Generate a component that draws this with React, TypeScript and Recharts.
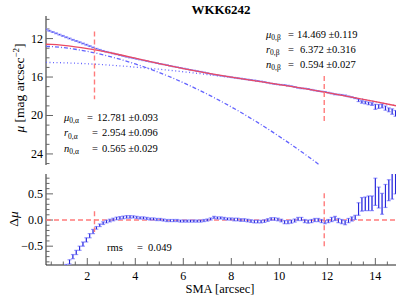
import { ComposedChart, Scatter, Line, XAxis, YAxis, ErrorBar, ReferenceLine } from 'recharts'

// semi-major axis of each isophote (arcsec)
const sma = [
  0.28, 0.42, 0.56, 0.70, 0.84, 0.98, 1.12, 1.26, 1.40, 1.54,
  1.68, 1.82, 1.96, 2.10, 2.24, 2.38, 2.52, 2.66, 2.80, 2.94,
  3.08, 3.22, 3.36, 3.50, 3.64, 3.78, 3.92, 4.06, 4.20, 4.34,
  4.48, 4.62, 4.76, 4.90, 5.04, 5.18, 5.32, 5.46, 5.60, 5.74,
  5.88, 6.02, 6.16, 6.30, 6.44, 6.58, 6.72, 6.86, 7.00, 7.14,
  7.28, 7.42, 7.56, 7.70, 7.84, 7.98, 8.12, 8.26, 8.40, 8.54,
  8.68, 8.82, 8.96, 9.10, 9.24, 9.38, 9.52, 9.66, 9.80, 9.94,
  10.08, 10.22, 10.36, 10.50, 10.64, 10.78, 10.92, 11.06, 11.20, 11.34,
  11.48, 11.62, 11.76, 11.90, 12.04, 12.18, 12.32, 12.46, 12.60, 12.74,
  12.88, 13.02, 13.16, 13.30, 13.44, 13.58, 13.72, 13.86, 14.00, 14.14,
  14.28, 14.42, 14.56, 14.70, 14.84,
]

// observed surface brightness (mag arcsec^-2)
const muObs = [
  11.06, 11.19, 11.32, 11.45, 11.59, 11.72, 11.86, 11.99, 12.13, 12.25,
  12.38, 12.51, 12.64, 12.78, 12.92, 13.05, 13.16, 13.27, 13.37, 13.46,
  13.55, 13.64, 13.73, 13.81, 13.90, 13.98, 14.05, 14.12, 14.19, 14.27,
  14.34, 14.41, 14.48, 14.55, 14.63, 14.69, 14.76, 14.84, 14.91, 14.98,
  15.04, 15.11, 15.18, 15.25, 15.31, 15.38, 15.44, 15.51, 15.59, 15.67,
  15.75, 15.80, 15.86, 15.91, 15.95, 16.01, 16.06, 16.11, 16.15, 16.21,
  16.25, 16.30, 16.34, 16.40, 16.45, 16.52, 16.59, 16.67, 16.72, 16.77,
  16.80, 16.83, 16.89, 16.95, 17.03, 17.12, 17.18, 17.19, 17.24, 17.32,
  17.40, 17.46, 17.50, 17.54, 17.62, 17.71, 17.80, 17.82, 17.86, 17.91,
  18.01, 18.10, 18.20, 18.43, 18.59, 18.66, 18.74, 18.81, 19.10, 19.06,
  19.01, 19.23, 19.41, 19.59, 19.78,
]

const muErr = [
  0.04, 0.04, 0.04, 0.04, 0.04, 0.04, 0.04, 0.04, 0.04, 0.04,
  0.04, 0.04, 0.04, 0.04, 0.04, 0.025, 0.025, 0.025, 0.025, 0.025,
  0.025, 0.025, 0.025, 0.025, 0.025, 0.025, 0.02, 0.02, 0.02, 0.02,
  0.02, 0.02, 0.02, 0.02, 0.02, 0.02, 0.02, 0.02, 0.02, 0.02,
  0.02, 0.02, 0.02, 0.02, 0.02, 0.02, 0.02, 0.02, 0.02, 0.02,
  0.02, 0.02, 0.02, 0.02, 0.02, 0.02, 0.025, 0.025, 0.025, 0.025,
  0.025, 0.025, 0.025, 0.025, 0.025, 0.025, 0.025, 0.025, 0.025, 0.025,
  0.025, 0.03, 0.03, 0.03, 0.03, 0.03, 0.03, 0.03, 0.03, 0.03,
  0.03, 0.03, 0.03, 0.03, 0.03, 0.04, 0.04, 0.04, 0.04, 0.04,
  0.04, 0.04, 0.04, 0.12, 0.13, 0.13, 0.14, 0.14, 0.26, 0.2,
  0.2, 0.22, 0.2, 0.28, 0.3,
]

// residuals data - model
const dMu = [
  -1.53, -1.42, -1.31, -1.20, -1.09, -0.99, -0.89, -0.80, -0.70, -0.62,
  -0.54, -0.46, -0.38, -0.30, -0.22, -0.15, -0.10, -0.06, -0.03, -0.01,
  0.01, 0.03, 0.04, 0.05, 0.06, 0.06, 0.06, 0.05, 0.04, 0.04,
  0.03, 0.02, 0.02, 0.01, 0.01, 0.00, -0.01, -0.01, -0.01, -0.01,
  -0.02, -0.02, -0.02, -0.02, -0.02, -0.02, -0.02, -0.01, 0.00, 0.02,
  0.05, 0.04, 0.04, 0.03, 0.02, 0.02, 0.01, 0.01, 0.00, 0.00,
  -0.01, -0.02, -0.03, -0.03, -0.03, -0.02, 0.00, 0.02, 0.02, 0.01,
  -0.01, -0.04, -0.04, -0.03, -0.01, 0.02, 0.02, -0.02, -0.03, -0.02,
  0.00, 0.00, -0.02, -0.04, -0.02, 0.01, 0.03, -0.01, -0.03, -0.05,
  -0.01, 0.02, 0.05, 0.21, 0.30, 0.31, 0.32, 0.32, 0.54, 0.43,
  0.31, 0.46, 0.57, 0.68, 0.80,
]

// total model and the two sersic components
const modelSma = [0.28, 0.5, 1, 1.5, 2, 2.5, 3, 3.5, 4, 4.5, 5, 5.5, 6, 6.5, 7, 7.5, 8, 9, 10, 11, 12, 13, 14, 14.86]
const muTotal = [12.59, 12.61, 12.71, 12.86, 13.04, 13.25, 13.50, 13.76, 14.04, 14.32, 14.60, 14.87, 15.12, 15.36, 15.59, 15.80, 16.00, 16.39, 16.78, 17.19, 17.62, 18.08, 18.56, 18.99]

const alphaSma = [0.28, 0.5, 1, 1.5, 2, 2.5, 3, 3.5, 4, 4.5, 5, 5.5, 6, 6.5, 7, 7.5, 8, 9, 10, 11, 11.5, 11.7]
const muAlpha = [12.80, 12.83, 12.94, 13.11, 13.33, 13.59, 13.90, 14.25, 14.64, 15.07, 15.54, 16.04, 16.59, 17.17, 17.78, 18.43, 19.11, 20.58, 22.18, 23.91, 24.82, 25.19]

const betaSma = [0.28, 1, 2, 3, 4, 5, 6, 7, 8, 9, 10, 11, 12, 13, 14, 14.86]
const muBeta = [14.48, 14.52, 14.62, 14.77, 14.97, 15.19, 15.45, 15.74, 16.06, 16.41, 16.79, 17.19, 17.62, 18.08, 18.56, 18.99]

// fit range markers
const fitEdges = [2.3, 11.87]
const fitMarkMu = [[11.25, 18.3], [15.9, 20.7]]
const fitMarkRes = [[0.17, -0.23], [0.51, -0.53]]

const xTicks = [0.5, 1, 1.5, 2, 2.5, 3, 3.5, 4, 4.5, 5, 5.5, 6, 6.5, 7, 7.5, 8, 8.5, 9, 9.5, 10, 10.5, 11, 11.5, 12, 12.5, 13, 13.5, 14, 14.5]
const xMajor = [2, 4, 6, 8, 10, 12, 14]
const muTicks = [10, 11, 12, 13, 14, 15, 16, 17, 18, 19, 20, 21, 22, 23, 24, 25]
const muMajor = [12, 16, 20, 24]
const resTicks = [-0.8, -0.7, -0.6, -0.5, -0.4, -0.3, -0.2, -0.1, 0, 0.1, 0.2, 0.3, 0.4, 0.5, 0.6, 0.7, 0.8]
const resMajor = [-0.5, 0, 0.5]

const SERIF = '"Liberation Serif", "DejaVu Serif", serif'
const X_DOMAIN = [0.28, 14.86]
const MU_DOMAIN = [9.65, 25.15]
const RES_DOMAIN = [-0.86, 0.88]

const obs = sma.map((x, i) => ({ x, y: muObs[i], err: muErr[i] }))
const res = sma.map((x, i) => ({ x, y: dMu[i], err: muErr[i] }))
const total = modelSma.map((x, i) => ({ x, y: muTotal[i] }))
const alpha = alphaSma.map((x, i) => ({ x, y: muAlpha[i] }))
const beta = betaSma.map((x, i) => ({ x, y: muBeta[i] }))

const fmtRes = (v: number) => (v < 0 ? '\u2212' + Math.abs(v).toFixed(1) : v.toFixed(1))

// inward tick marks, labels only on the major ones
const Tick = ({ x, y, payload, side, majors, fmt }: any) => {
  const v = payload.value
  const big = majors.some((m: number) => Math.abs(m - v) < 1e-6)
  const len = big ? 7 : 3.5
  let mark
  if (side === 'bottom') mark = <line x1={x} y1={y} x2={x} y2={y - len} />
  else if (side === 'top') mark = <line x1={x} y1={y} x2={x} y2={y + len} />
  else if (side === 'left') mark = <line x1={x} y1={y} x2={x + len} y2={y} />
  else mark = <line x1={x} y1={y} x2={x - len} y2={y} />
  return (
    <g>
      <g stroke="#666" strokeWidth={1}>{mark}</g>
      {fmt && big && side === 'bottom' && (
        <text x={x} y={y + 14.5} textAnchor="middle" fontFamily={SERIF} fontSize={12} fill="#000">{fmt(v)}</text>
      )}
      {fmt && big && side === 'left' && (
        <text x={x - 3} y={y + 4} textAnchor="end" fontFamily={SERIF} fontSize={12} fill="#000">{fmt(v)}</text>
      )}
    </g>
  )
}

const axisLine = { stroke: '#222', strokeWidth: 1 }

// the same four axes for both layers; the "bare" copy only lends its scales to the series
function Axes({ yDomain, yTicks, yMajor, reversed, xFmt, yFmt, bottomHeight, bare }: any) {
  const tk = (side: string, majors: number[], fmt?: any) =>
    bare ? false : (p: any) => <Tick {...p} side={side} majors={majors} fmt={fmt} />
  const line = bare ? false : axisLine
  return [
    <XAxis key="xb" xAxisId="b" dataKey="x" type="number" domain={X_DOMAIN} allowDataOverflow ticks={xTicks} interval={0}
      height={bottomHeight} tickSize={0} tickMargin={0} tickLine={false} axisLine={line} tick={tk('bottom', xMajor, xFmt)} />,
    <XAxis key="xt" xAxisId="t" orientation="top" dataKey="x" type="number" domain={X_DOMAIN} allowDataOverflow ticks={xTicks} interval={0}
      height={0} tickSize={0} tickMargin={0} tickLine={false} axisLine={line} tick={tk('top', xMajor)} />,
    <YAxis key="yl" yAxisId="l" dataKey="y" type="number" domain={yDomain} allowDataOverflow reversed={reversed} ticks={yTicks} interval={0}
      width={46} tickSize={0} tickMargin={0} tickLine={false} axisLine={line} tick={tk('left', yMajor, yFmt)} />,
    <YAxis key="yr" yAxisId="r" orientation="right" dataKey="y" type="number" domain={yDomain} allowDataOverflow reversed={reversed} ticks={yTicks} interval={0}
      width={0} tickSize={0} tickMargin={0} tickLine={false} axisLine={line} tick={tk('right', yMajor)} />,
  ]
}

const NoDot = () => <g />

const dashRed = '#ff7b7b'

const errBars = [
  <ErrorBar key="e1" dataKey="err" direction="y" width={2} stroke="#9a9aff" strokeWidth={1.2} isAnimationActive={false} />,
  <ErrorBar key="e2" dataKey="err" direction="y" width={0} stroke="#2424d8" strokeWidth={1} isAnimationActive={false} />,
]

const topMargin = { top: 16, right: 3, bottom: 5, left: 0 }
const botMargin = { top: 9, right: 3, bottom: 0, left: 0 }
const topAxes = { yDomain: MU_DOMAIN, yTicks: muTicks, yMajor: muMajor, reversed: true, yFmt: (v: number) => String(v), bottomHeight: 0 }
const botAxes = { yDomain: RES_DOMAIN, yTicks: resTicks, yMajor: resMajor, reversed: false, xFmt: (v: number) => String(v), yFmt: fmtRes, bottomHeight: 36 }

export default function App() {
  return (
    <div style={{ position: 'absolute', left: 0, top: 0, width: 399, height: 301, background: '#fff' }}>
      {/* profile panel: frame, then series clipped to the plot box */}
      <div style={{ position: 'absolute', left: 0, top: 0 }}>
        <ComposedChart width={399} height={170} margin={topMargin}>
          {Axes(topAxes)}
        </ComposedChart>
      </div>
      <div style={{ position: 'absolute', left: 0, top: 0, width: 399, height: 170, clipPath: 'inset(16px 3px 5px 46px)' }}>
        <ComposedChart width={399} height={170} margin={topMargin}>
          {Axes({ ...topAxes, bare: true })}
          <Line xAxisId="t" yAxisId="r" data={beta} dataKey="y" type="monotone" stroke="#6464ff" strokeWidth={1.3}
            strokeDasharray="1 2.5" dot={false} isAnimationActive={false} />
          <Line xAxisId="t" yAxisId="r" data={alpha} dataKey="y" type="monotone" stroke="#6464ff" strokeWidth={1.3}
            strokeDasharray="4 2 1 2" dot={false} isAnimationActive={false} />
          <Scatter xAxisId="b" yAxisId="l" data={obs} dataKey="y" shape={NoDot} isAnimationActive={false}>
            {errBars}
          </Scatter>
          <Line xAxisId="t" yAxisId="r" data={total} dataKey="y" type="monotone" stroke="#ea4a62" strokeWidth={1.3}
            dot={false} isAnimationActive={false} />
          {fitEdges.map((e, i) => (
            <ReferenceLine key={i} xAxisId="b" yAxisId="l" segment={[{ x: e, y: fitMarkMu[i][0] }, { x: e, y: fitMarkMu[i][1] }]}
              stroke={dashRed} strokeWidth={1.4} strokeDasharray="5 3" />
          ))}
        </ComposedChart>
      </div>

      {/* residual panel */}
      <div style={{ position: 'absolute', left: 0, top: 165 }}>
        <ComposedChart width={399} height={136} margin={botMargin}>
          {Axes(botAxes)}
        </ComposedChart>
      </div>
      <div style={{ position: 'absolute', left: 0, top: 165, width: 399, height: 136, clipPath: 'inset(9px 3px 36px 46px)' }}>
        <ComposedChart width={399} height={136} margin={botMargin}>
          {Axes({ ...botAxes, bare: true })}
          <ReferenceLine xAxisId="b" yAxisId="l" y={0} stroke={dashRed} strokeWidth={1.4} strokeDasharray="5 3" />
          <Scatter xAxisId="b" yAxisId="l" data={res} dataKey="y" shape={NoDot} isAnimationActive={false}>
            {errBars}
          </Scatter>
          {fitEdges.map((e, i) => (
            <ReferenceLine key={i} xAxisId="b" yAxisId="l" segment={[{ x: e, y: fitMarkRes[i][0] }, { x: e, y: fitMarkRes[i][1] }]}
              stroke={dashRed} strokeWidth={1.4} strokeDasharray="5 3" />
          ))}
        </ComposedChart>
      </div>

      {/* titles and fit parameters */}
      <svg width={399} height={301} style={{ position: 'absolute', left: 0, top: 0, pointerEvents: 'none' }}
        fontFamily={SERIF} fill="#000">
        <text x={221} y={13.5} textAnchor="middle" fontSize={13} fontWeight="bold">WKK6242</text>
        <text transform="translate(23.5,88) rotate(-90)" textAnchor="middle" fontSize={13.5}>
          <tspan fontStyle="italic">μ</tspan> [mag arcsec<tspan fontSize={9} dy={-5}>−2</tspan><tspan dy={5}>]</tspan>
        </text>
        <text transform="translate(17.5,219) rotate(-90)" textAnchor="middle" fontSize={13.5}>
          Δ<tspan fontStyle="italic">μ</tspan>
        </text>
        <text x={220} y={292.5} textAnchor="middle" fontSize={12.5}>SMA [arcsec]</text>

        <g fontSize={10.5}>
          <text x={266} y={37.5}><tspan fontStyle="italic">μ</tspan><tspan fontSize={7.5} dy={2.5}>0,β</tspan></text>
          <text x={288} y={37.5}>=</text>
          <text x={297} y={37.5}>14.469 ±0.119</text>

          <text x={266} y={52.5}><tspan fontStyle="italic">r</tspan><tspan fontSize={7.5} dy={2.5}>0,β</tspan></text>
          <text x={288} y={52.5}>=</text>
          <text x={300} y={52.5}>6.372 ±0.316</text>

          <text x={266} y={67.5}><tspan fontStyle="italic">n</tspan><tspan fontSize={7.5} dy={2.5}>0,β</tspan></text>
          <text x={288} y={67.5}>=</text>
          <text x={300} y={67.5}>0.594 ±0.027</text>

          <text x={64} y={120.5}><tspan fontStyle="italic">μ</tspan><tspan fontSize={7.5} dy={2.5}>0,α</tspan></text>
          <text x={87} y={120.5}>=</text>
          <text x={97} y={120.5}>12.781 ±0.093</text>

          <text x={64} y={136}><tspan fontStyle="italic">r</tspan><tspan fontSize={7.5} dy={2.5}>0,α</tspan></text>
          <text x={92} y={136}>=</text>
          <text x={102} y={136}>2.954 ±0.096</text>

          <text x={64} y={151.5}><tspan fontStyle="italic">n</tspan><tspan fontSize={7.5} dy={2.5}>0,α</tspan></text>
          <text x={92} y={151.5}>=</text>
          <text x={102} y={151.5}>0.565 ±0.029</text>

          <text x={107} y={250.5}>rms</text>
          <text x={137} y={250.5}>=</text>
          <text x={148} y={250.5}>0.049</text>
        </g>
      </svg>
    </div>
  )
}
